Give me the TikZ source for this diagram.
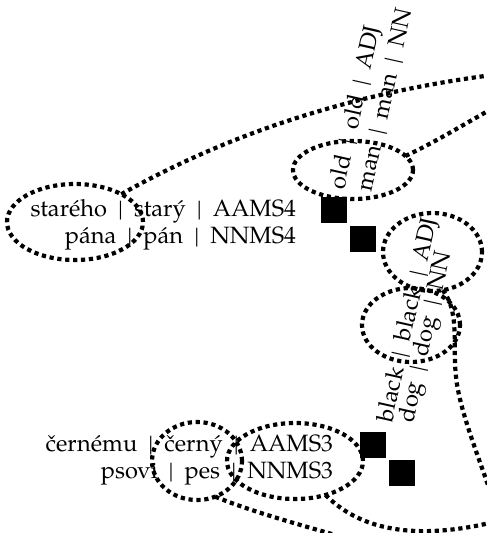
\documentclass[tikz,border=0pt]{standalone}
\usepackage{fontspec}
\setmainfont{TeX Gyre Pagella}
\usetikzlibrary{shapes.geometric}

% field separator with the wide spacing used in the rows
\newcommand{\fsep}{\hspace{0.47em}|\hspace{0.47em}}

\tikzset{
  dotline/.style={line width=4.2pt, dash pattern=on 4.2pt off 3.7pt},
  blob/.style={ellipse, draw, dotline, inner sep=0pt, outer sep=0pt},
  word/.style={inner sep=0pt, outer sep=0pt, font=\fontsize{23.6pt}{28pt}\selectfont},
  tilted/.style={word, rotate=77.4, anchor=base west},
  cell/.style={fill=black, minimum size=26pt, inner sep=0pt, outer sep=0pt},
}

\begin{document}
\begin{tikzpicture}[x=1pt,y=-1pt]
\useasboundingbox (0,0) rectangle (487,533);
\clip (0,0) rectangle (487,533);

% first sentence pair: Czech rows and rotated English columns
\node[word, anchor=base east] (csA1) at (296,216.5) {starého\fsep starý\fsep AAMS4};
\node[word, anchor=base east] (csA2) at (296,243.5) {pána\fsep pán\fsep NNMS4};
\node[tilted] (enA1) at (344,190) {old\fsep old\fsep ADJ};
\node[tilted] (enA2) at (371,192) {man\fsep man\fsep NN};
\node[cell] (cellA1) at (334,209.5) {};
\node[cell] (cellA2) at (363,238.5) {};

% second sentence pair
\node[word, anchor=base east] (csB1) at (333,451) {černému\fsep černý\fsep AAMS3};
\node[word, anchor=base east] (csB2) at (333,478) {psovi\fsep pes\fsep NNMS3};
\node[tilted] (enB1) at (392,423) {black\fsep black\fsep ADJ};
\node[tilted] (enB2) at (413,423) {dog\fsep dog\fsep NN};
\node[cell] (cellB1) at (373,445) {};
\node[cell] (cellB2) at (402,473) {};

% groups
\node[blob, minimum width=136pt, minimum height=76pt] (g1) at (75,222) {};
\node[blob, minimum width=120pt, minimum height=58pt] (g2) at (353,170) {};
\node[blob, minimum width=99pt, minimum height=78pt] (g3) at (432.5,252) {};
\node[blob, minimum width=98pt, minimum height=74pt] (g4) at (411,325) {};
\node[blob, minimum width=90pt, minimum height=78pt] (g5) at (197,461) {};
\node[blob, minimum width=136pt, minimum height=76pt] (g6) at (295,461) {};

% links leaving the frame
\coordinate (out1) at (560,68);
\coordinate (out2) at (540,82);
\coordinate (out3) at (500,520);
\coordinate (out4) at (380,548);
\coordinate (out5) at (520,515);

\draw[dotline] (g1.31) .. controls (200,150) and (340,85) .. (out1);
\draw[dotline] (g2.15) .. controls (440,140) and (470,120) .. (out2);
\draw[dotline] (g3.-75) .. controls (462,315) and (450,350) .. (458,390)
                        .. controls (465,425) and (480,460) .. (out3);
\draw[dotline] (g5.-63) .. controls (260,515) and (320,530) .. (out4);
\draw[dotline] (g6.-48) .. controls (365,535) and (430,542) .. (out5);
\end{tikzpicture}
\end{document}
